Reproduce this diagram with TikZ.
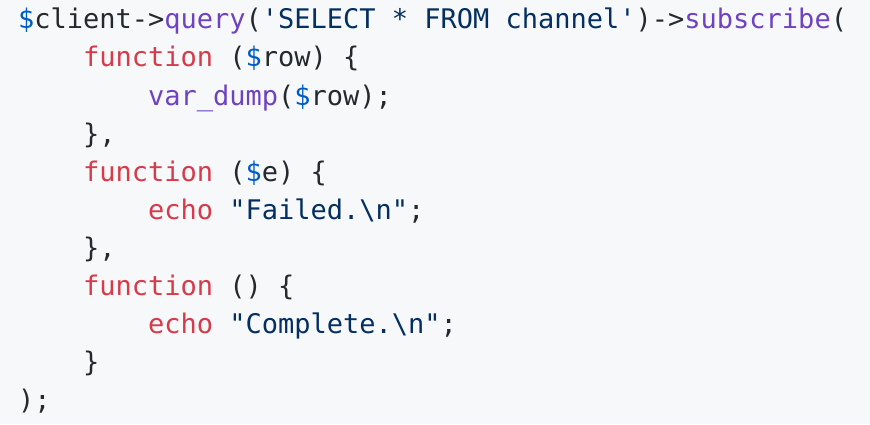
\documentclass[tikz,border=0pt]{standalone}
\usepackage{fontspec}
\setmonofont{DejaVu Sans Mono}
\usetikzlibrary{positioning}
\definecolor{bgc}{HTML}{F6F8FA}
\definecolor{plain}{HTML}{24292E}
\definecolor{varb}{HTML}{005CC5}
\definecolor{fnp}{HTML}{6F42C1}
\definecolor{strc}{HTML}{032F62}
\definecolor{kwr}{HTML}{D73A49}
\newcommand{\dol}{\textcolor{varb}{\$}}
\newcommand{\kw}[1]{\textcolor{kwr}{#1}}
\newcommand{\fn}[1]{\textcolor{fnp}{#1}}
\newcommand{\st}[1]{\textcolor{strc}{#1}}
\begin{document}
\begin{tikzpicture}[x=1pt,y=1pt,
  codeline/.style={anchor=base west,inner sep=0pt,outer sep=0pt,text=plain,
    font=\ttfamily\fontsize{27}{38}\selectfont}]
\fill[bgc] (0,0) rectangle (870,424);
\useasboundingbox (0,0) rectangle (870,424);
\node[codeline] (l1) at (18,395) {\dol client->\fn{query}(\st{'SELECT * FROM channel'})->\fn{subscribe}(};
\node[codeline] (l2) at (83,357) {\kw{function} (\dol row) \{};
\node[codeline] (l3) at (148,319) {\fn{var\_dump}(\dol row);};
\node[codeline] (l4) at (83,281) {\},};
\node[codeline] (l5) at (83,243) {\kw{function} (\dol e) \{};
\node[codeline] (l6) at (148,205) {\kw{echo} \st{"Failed.\textbackslash n"};};
\node[codeline] (l7) at (83,167) {\},};
\node[codeline] (l8) at (83,129) {\kw{function} () \{};
\node[codeline] (l9) at (148,91) {\kw{echo} \st{"Complete.\textbackslash n"};};
\node[codeline] (l10) at (83,53) {\}};
\node[codeline] (l11) at (18,15) {);};
\end{tikzpicture}
\end{document}
